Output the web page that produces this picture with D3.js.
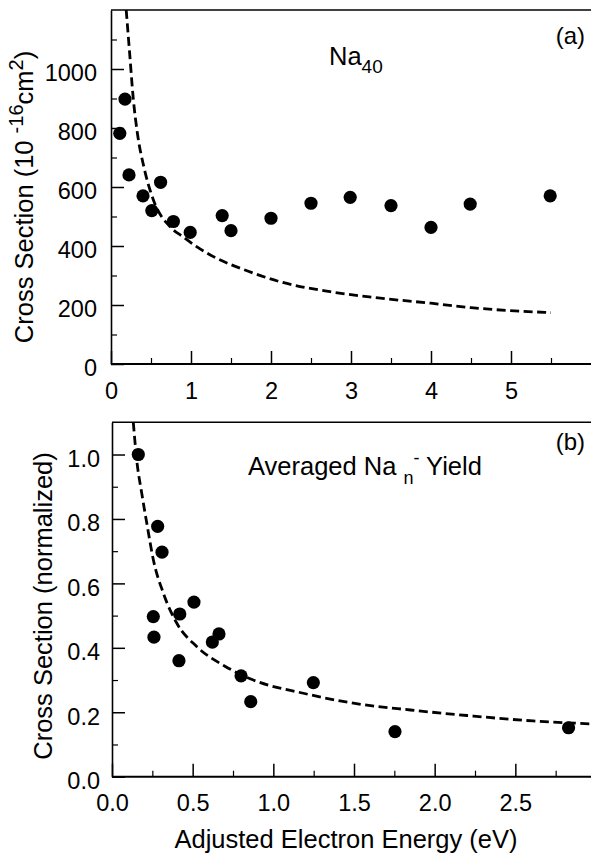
<!DOCTYPE html>
<html>
<head>
<meta charset="utf-8">
<script src="https://cdn.jsdelivr.net/npm/d3@7"></script>
<style>
  body { margin: 0; background: #fff; }
  svg { display: block; font-family: "Liberation Sans", Arial, Helvetica, sans-serif; }
  .axis path, .axis line { stroke: #000; }
  .axis text { fill: #000; font-size: 23.5px; }
</style>
</head>
<body>
<div id="chart"></div>
<script>
// panel (a): Na40 cross section
var energyA = [0.11, 0.175, 0.225, 0.40, 0.51, 0.62, 0.78, 0.99, 1.39, 1.50, 2.0, 2.50, 2.99, 3.50, 4.0, 4.49, 5.49];
var sigmaA  = [782, 898, 641, 570, 520, 616, 483, 446, 503, 452, 494, 545, 565, 537, 463, 542, 570];
// dashed curve (a)
var fitEA = [0.19, 0.23, 0.28, 0.33, 0.41, 0.53, 0.74, 0.90, 1.07, 1.28, 1.70, 2.11, 2.74, 3.3, 4.0, 4.5, 5.5];
var fitSA = [1200, 1064, 895, 782, 669, 556, 465, 431, 398, 364, 316, 279, 245, 225, 206, 191, 174];

// panel (b): averaged Na_n- yield
var energyB = [0.163, 0.283, 0.31, 0.256, 0.26, 0.42, 0.415, 0.508, 0.622, 0.663, 0.80, 0.86, 1.248, 1.754, 2.83];
var yieldB  = [1.0, 0.777, 0.697, 0.497, 0.433, 0.505, 0.36, 0.542, 0.418, 0.443, 0.313, 0.233, 0.292, 0.14, 0.152];
var fitEB = [0.132, 0.153, 0.184, 0.219, 0.256, 0.318, 0.401, 0.525, 0.70, 0.876, 1.186, 1.496, 1.85, 2.2, 2.61, 2.97];
var fitYB = [1.10, 0.984, 0.881, 0.777, 0.674, 0.570, 0.477, 0.404, 0.343, 0.30, 0.259, 0.228, 0.207, 0.19, 0.173, 0.164];

// ticks
var xTicksA = [0, 1, 2, 3, 4, 5];
var xMinorA = [0.5, 1.5, 2.5, 3.5, 4.5, 5.5];
var yTicksA = [0, 200, 400, 600, 800, 1000];
var yMinorA = [100, 300, 500, 700, 900, 1100];
var xTicksB = [0, 0.5, 1.0, 1.5, 2.0, 2.5];
var xMinorB = [0.25, 0.75, 1.25, 1.75, 2.25, 2.75];
var yTicksB = [0, 0.2, 0.4, 0.6, 0.8, 1.0];
var yMinorB = [0.1, 0.3, 0.5, 0.7, 0.9];

var svgWidth = 591;
var svgHeight = 858;

var svg = d3.select("#chart")
  .append("svg")
  .attr("width", svgWidth)
  .attr("height", svgHeight);

function drawPanel(opt) {
  var x = d3.scaleLinear().domain(opt.xDomain).range(opt.xRange);
  var y = d3.scaleLinear().domain(opt.yDomain).range(opt.yRange);
  var g = svg.append("g");

  // clip to plot area
  var clipId = "clip" + opt.id;
  svg.append("clipPath").attr("id", clipId)
    .append("rect")
    .attr("x", opt.xRange[0]).attr("y", opt.yRange[1])
    .attr("width", opt.xRange[1] - opt.xRange[0] + 10)
    .attr("height", opt.yRange[0] - opt.yRange[1]);

  // frame: top line
  g.append("line")
    .attr("x1", opt.xRange[0]).attr("x2", svgWidth + 5)
    .attr("y1", opt.yRange[1]).attr("y2", opt.yRange[1])
    .attr("stroke", "#000").attr("stroke-width", 1.6);

  // minor ticks
  g.append("g").attr("class", "axis")
    .attr("transform", `translate(0, ${opt.yRange[0]})`)
    .call(d3.axisBottom(x).tickValues(opt.xMinor).tickSize(-6).tickSizeOuter(0).tickFormat(""))
    .call(s => s.select(".domain").remove())
    .selectAll("line").attr("stroke-width", 1.2);
  g.append("g").attr("class", "axis")
    .attr("transform", `translate(${opt.xRange[0]}, 0)`)
    .call(d3.axisLeft(y).tickValues(opt.yMinor).tickSize(-6).tickSizeOuter(0).tickFormat(""))
    .call(s => s.select(".domain").remove())
    .selectAll("line").attr("stroke-width", 1.2);

  // major axes
  var xAxis = g.append("g").attr("class", "axis")
    .attr("transform", `translate(0, ${opt.yRange[0]})`)
    .call(d3.axisBottom(x).tickValues(opt.xTicks).tickSize(-13).tickSizeOuter(0)
      .tickPadding(18).tickFormat(opt.xFormat));
  xAxis.select(".domain").attr("stroke-width", 2)
    .attr("d", `M${opt.xRange[0]},0H${svgWidth + 5}`);
  xAxis.selectAll(".tick line").attr("stroke-width", 1.5);

  var yAxis = g.append("g").attr("class", "axis")
    .attr("transform", `translate(${opt.xRange[0]}, 0)`)
    .call(d3.axisLeft(y).tickValues(opt.yTicks).tickSize(-13).tickSizeOuter(0)
      .tickPadding(opt.yPad).tickFormat(opt.yFormat));
  yAxis.select(".domain").attr("stroke-width", 1.6);
  yAxis.selectAll(".tick line").attr("stroke-width", 1.5);
  yAxis.selectAll("text").attr("dy", "0.5em");

  // dashed curve
  var line = d3.line()
    .x(d => x(d[0]))
    .y(d => y(d[1]))
    .curve(d3.curveMonotoneX);
  g.append("path")
    .datum(d3.zip(opt.fitE, opt.fitS))
    .attr("clip-path", `url(#${clipId})`)
    .attr("fill", "none")
    .attr("stroke", "#000")
    .attr("stroke-width", 2.8)
    .attr("stroke-dasharray", "9,4.5")
    .attr("d", line);

  // points
  g.append("g").selectAll("circle")
    .data(d3.zip(opt.ptE, opt.ptS))
    .enter()
    .append("circle")
    .attr("cx", d => x(d[0]))
    .attr("cy", d => y(d[1]))
    .attr("r", 6.6)
    .attr("fill", "#000");

  return g;
}

var gA = drawPanel({
  id: "a",
  xDomain: [0, 6], xRange: [111, 591],
  yDomain: [0, 1200], yRange: [364, 10],
  xTicks: xTicksA, xMinor: xMinorA, yTicks: yTicksA, yMinor: yMinorA,
  xFormat: d3.format("d"), yFormat: d3.format("d"), yPad: 14,
  ptE: energyA, ptS: sigmaA, fitE: fitEA, fitS: fitSA
});

var gB = drawPanel({
  id: "b",
  xDomain: [0, 3], xRange: [112, 596],
  yDomain: [0, 1.1], yRange: [776.7, 422.3],
  xTicks: xTicksB, xMinor: xMinorB, yTicks: yTicksB, yMinor: yMinorB,
  xFormat: d3.format(".1f"), yFormat: d3.format(".1f"), yPad: 12,
  ptE: energyB, ptS: yieldB, fitE: fitEB, fitS: fitYB
});

// y-axis titles
var titleA = svg.append("text")
  .attr("transform", "translate(33, 197) rotate(-90)")
  .attr("text-anchor", "middle")
  .style("font-size", "25.5px");
titleA.append("tspan").text("Cross Section (10 ");
titleA.append("tspan").attr("dy", -10).style("font-size", "20px").text("-16");
titleA.append("tspan").attr("dy", 10).text("cm");
titleA.append("tspan").attr("dy", -10).style("font-size", "20px").text("2");
titleA.append("tspan").attr("dy", 10).text(")");

svg.append("text")
  .attr("transform", "translate(52, 606) rotate(-90)")
  .attr("text-anchor", "middle")
  .style("font-size", "25.5px")
  .text("Cross Section (normalized)");

// x-axis title
svg.append("text")
  .attr("x", 346)
  .attr("y", 848)
  .attr("text-anchor", "middle")
  .style("font-size", "25.5px")
  .text("Adjusted Electron Energy (eV)");

// panel labels
var naA = svg.append("text")
  .attr("x", 329).attr("y", 65)
  .style("font-size", "25.5px");
naA.append("tspan").text("Na");
naA.append("tspan").attr("dy", 8).style("font-size", "19px").text("40");

svg.append("text")
  .attr("x", 585).attr("y", 44)
  .attr("text-anchor", "end")
  .style("font-size", "24px")
  .text("(a)");

var naB = svg.append("text")
  .attr("x", 248).attr("y", 475)
  .style("font-size", "25.5px");
naB.append("tspan").text("Averaged Na ");
naB.append("tspan").attr("dy", 9).style("font-size", "18px").text("n");
naB.append("tspan").attr("dy", -20).style("font-size", "18px").text("-");
naB.append("tspan").attr("dy", 11).text(" Yield");

svg.append("text")
  .attr("x", 585).attr("y", 450)
  .attr("text-anchor", "end")
  .style("font-size", "24px")
  .text("(b)");
</script>
</body>
</html>
